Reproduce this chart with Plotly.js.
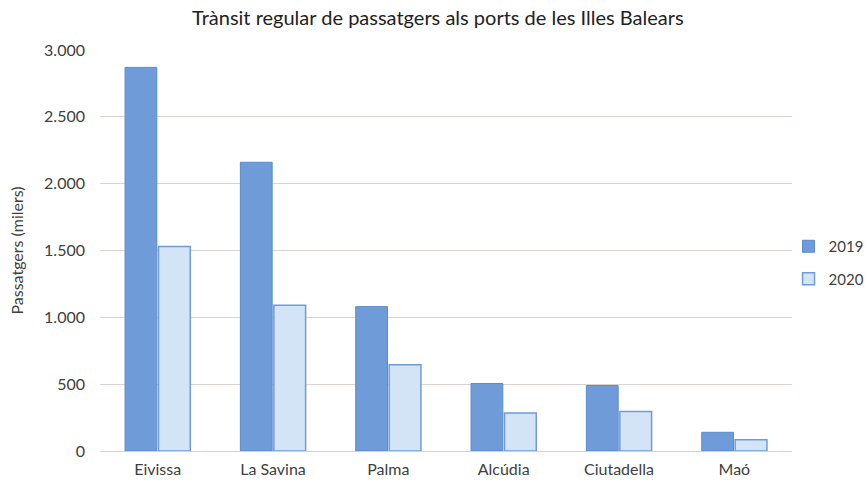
<!DOCTYPE html>
<html>
<head>
<meta charset="utf-8">
<script src="https://cdn.plot.ly/plotly-3.0.1.min.js"></script>
<style>html,body{margin:0;padding:0;background:#fff;}#chart{width:867px;height:488px;}</style>
</head>
<body>
<div id="chart"></div>
<script>
const categories = ["Eivissa", "La Savina", "Palma", "Alcúdia", "Ciutadella", "Maó"];
const values2019 = [2870, 2160, 1080, 505, 490, 140];
const values2020 = [1530, 1090, 645, 285, 295, 85];
const yTickVals = [0, 500, 1000, 1500, 2000, 2500, 3000];
const yTickText = ["0", "500", "1.000", "1.500", "2.000", "2.500", "3.000"];

const font = "Lato, 'Open Sans', sans-serif";
const traces = [
  {type: "bar", name: "2019", x: categories, y: values2019, legendgroup: "a",
   marker: {color: "#6f9cd8", line: {color: "#5b8bd0", width: 1}}},
  {type: "bar", name: "2020", x: categories, y: values2020, legendgroup: "b",
   marker: {color: "#d2e4f5", line: {color: "#6f9cd8", width: 1.5}}}
];
const layout = {
  width: 867, height: 488,
  margin: {l: 100, r: 75, t: 50, b: 37, autoexpand: false},
  paper_bgcolor: "#ffffff", plot_bgcolor: "#ffffff",
  font: {family: font, size: 15, color: "#404040"},
  title: {text: "Trànsit regular de passatgers als ports de les Illes Balears",
          x: 0.505, xanchor: "center", y: 0.963, yanchor: "middle",
          font: {family: font, size: 20, color: "#222222"}},
  barmode: "group", bargap: 0.42, bargroupgap: 0.05,
  xaxis: {showgrid: false, showline: true, linecolor: "#d9d0cc", linewidth: 1,
          ticks: "", ticklabelstandoff: 4, tickfont: {size: 16, color: "#404040"}},
  yaxis: {range: [0, 3000], tickvals: yTickVals, ticktext: yTickText,
          showgrid: true, gridcolor: "#dcd3cf", gridwidth: 1, zeroline: false,
          ticks: "", ticklen: 0, ticklabelstandoff: 14, tickfont: {size: 16, color: "#404040"},
          title: {text: "Passatgers (milers)", standoff: 16, font: {size: 16, color: "#404040"}}},
  legend: {x: 0.995, xanchor: "left", y: 0.47, yanchor: "middle", traceorder: "grouped",
           bgcolor: "rgba(0,0,0,0)",
           font: {size: 15, color: "#404040"}, tracegroupgap: 10, itemwidth: 30}
};
Plotly.newPlot("chart", traces, layout, {displayModeBar: false, staticPlot: true});
</script>
</body>
</html>
